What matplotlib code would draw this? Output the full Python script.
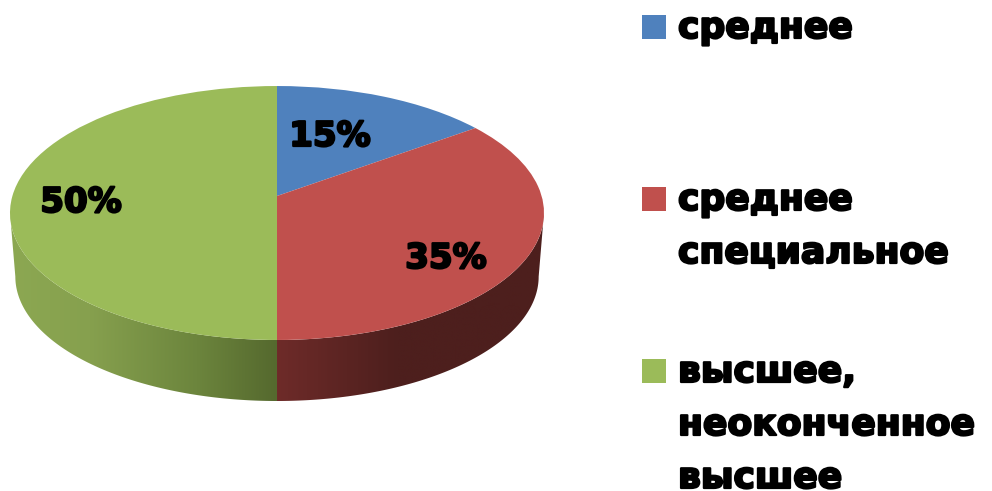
import numpy as np
import matplotlib
matplotlib.use("Agg")
import matplotlib.pyplot as plt
import matplotlib.patheffects as pe
from matplotlib.colors import LinearSegmentedColormap
from matplotlib.patches import Polygon, Rectangle
from matplotlib.transforms import Transform

categories = ["среднее", "среднее\nспециальное", "высшее,\nнеоконченное\nвысшее"]
values = [15, 35, 50]
labels = ["15%", "35%", "50%"]
colors = ["#4F81BD", "#C0504D", "#9BBB59"]

W, H = 992, 491
fig = plt.figure(figsize=(W / 100, H / 100), dpi=100)
ax = fig.add_axes([0, 0, 1, 1])

# perspective of the pie disc: unit circle -> pixels
CX, CY, A, B, K = 277.0, 196.0, 264.6, 124.7, 0.1339
SCALE, DROP = 0.98, 63.9


class Persp(Transform):
    input_dims = output_dims = 2
    is_separable = False

    def transform_non_affine(self, v):
        v = np.asarray(v, float)
        d = 1 + K * v[:, 1]
        return np.column_stack([CX + A * v[:, 0] / d, CY - B * v[:, 1] / d])


wedges, _ = ax.pie(values, colors=colors, startangle=90, counterclock=False,
                   wedgeprops=dict(linewidth=0, zorder=3))
tr = Persp() + ax.transData
for w in wedges:
    w.set_transform(tr)
    w.set_clip_on(False)


def rim(theta_deg):
    t = np.radians(theta_deg)
    return Persp().transform_non_affine(np.column_stack([np.sin(t), np.cos(t)]))


def wall(theta0, theta1, stops, xr):
    th = np.linspace(theta0, theta1, 120)
    top = rim(th)
    bot = top.copy()
    bot[:, 0] = CX + SCALE * (top[:, 0] - CX)
    bot[:, 1] = CY + SCALE * (top[:, 1] - CY) + DROP
    cmap = LinearSegmentedColormap.from_list("w", stops)
    im = ax.imshow(np.linspace(0, 1, 256)[None, :], cmap=cmap, aspect="auto",
                   extent=(xr[0], xr[1], 410, 200), zorder=2)
    poly = Polygon(np.vstack([top, bot[::-1]]), closed=True, transform=ax.transData)
    im.set_clip_path(poly)


# side walls begin at the cumulative share boundaries
boundary = 360 * (values[0] + values[1]) / sum(values)
side = np.degrees(np.arccos(-K))
wall(side, boundary, [(0, "#6E2B29"), (0.45, "#4D1F1D"), (1, "#4D1F1D")], (277, 545))
wall(boundary, 360 - side,
     [(0, "#8CA852"), (0.3, "#86A04E"), (0.7, "#6C853D"), (1, "#55692E")], (10, 277))

ax.set_xlim(0, W)
ax.set_ylim(H, 0)
ax.set_aspect("auto")
ax.axis("off")

stroke = [pe.withStroke(linewidth=1.6, foreground="black")]
font = dict(family="DejaVu Sans", fontweight="bold", color="black", zorder=5,
            path_effects=stroke)

label_pos = [(330, 146), (446, 268), (81, 212)]
for s, (x, y) in zip(labels, label_pos):
    ax.text(x, y, s, ha="center", va="baseline", fontsize=24.5, **font)

swatch_tops = [15, 187, 359]
baselines = [[38], [210, 263], [382, 435, 488]]
for cat, col, top, bases in zip(categories, colors, swatch_tops, baselines):
    ax.add_patch(Rectangle((642, top), 24, 24, facecolor=col, linewidth=0, zorder=4))
    for line, y in zip(cat.split("\n"), bases):
        ax.text(678, y, line, ha="left", va="baseline", fontsize=26, **font)

fig.savefig("out.png", dpi=100, facecolor="white")
